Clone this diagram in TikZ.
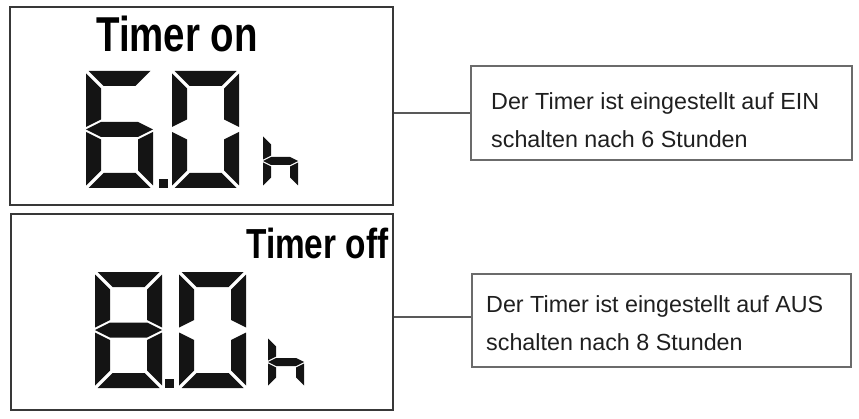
\documentclass[tikz,border=0pt]{standalone}
\usepackage{fontspec}
\setmainfont{Liberation Sans}
\newfontfamily\txtfont{Liberation Sans}
\begin{document}
\begin{tikzpicture}[x=1pt,y=1pt,
  lcdframe/.style={draw=black!78,line width=2pt,minimum width=#1,inner sep=0pt},
  infobox/.style={draw=black!58,line width=1.5pt,inner sep=0pt},
  infotext/.style={inner sep=0pt,align=left,text=black!88,font=\txtfont\fontsize{23.3}{38}\selectfont},
  lcdlabel/.style={inner sep=0pt},
  wire/.style={draw=black!65,line width=1.5pt}]
\useasboundingbox (0,0) rectangle (859,418);
\pgfkeys{
 /seg/a/.code={\fill (\D,\H) -- ({\W-\D},\H) -- ({\W-\T-\D},{\H-\T}) -- ({\T+\D},{\H-\T}) -- cycle;},
 /seg/b/.code={\fill (\W,{\H-\D}) -- ({\W-\T},{\H-\T-\D}) -- ({\W-\T},{\M+\Hh+\D}) -- (\W,{\M+\D}) -- cycle;},
 /seg/c/.code={\fill (\W,\D) -- ({\W-\T},{\T+\D}) -- ({\W-\T},{\M-\Hh-\D}) -- (\W,{\M-\D}) -- cycle;},
 /seg/d/.code={\fill (\D,0) -- ({\W-\D},0) -- ({\W-\T-\D},\T) -- ({\T+\D},\T) -- cycle;},
 /seg/e/.code={\fill (0,\D) -- (\T,{\T+\D}) -- (\T,{\M-\Hh-\D}) -- (0,{\M-\D}) -- cycle;},
 /seg/f/.code={\fill (0,{\H-\D}) -- (\T,{\H-\T-\D}) -- (\T,{\M+\Hh+\D}) -- (0,{\M+\D}) -- cycle;},
 /seg/g/.code={\fill (0,\M) -- (\T,{\M+\Hh}) -- ({\W-\T},{\M+\Hh}) -- (\W,\M) -- ({\W-\T},{\M-\Hh}) -- (\T,{\M-\Hh}) -- cycle;}
}
\newcommand\lcddigit[7]{%
  \begin{scope}[shift={(#1,#2)}]
    \def\W{#3}\def\H{#4}\def\T{#5}\def\D{#6}%
    \pgfmathsetmacro\Hh{#5/2}\pgfmathsetmacro\M{#4/2}%
    \foreach \s in {#7}{\edef\segtmp{\noexpand\pgfkeys{/seg/\s}}\segtmp}
  \end{scope}}

% frames
\node[lcdframe=383pt,minimum height=198pt] (lcdon) at (201.5,312) {};
\node[lcdframe=382pt,minimum height=196pt] (lcdoff) at (202,106) {};
\node[infobox,minimum width=381pt,minimum height=94pt] (txton) at (661.5,305) {};
\node[infobox,minimum width=379pt,minimum height=93pt] (txtoff) at (661.5,97.5) {};

% texts
\node[infotext,anchor=north west] (txtonlabel) at (491,326) {Der Timer ist eingestellt auf EIN\\schalten nach 6 Stunden};
\node[infotext,anchor=north west] (txtofflabel) at (486,123) {Der Timer ist eingestellt auf AUS\\schalten nach 8 Stunden};

\node[lcdlabel,anchor=base west] (timeron) at (96,366) {\scalebox{0.785}[1]{\fontsize{49}{49}\selectfont\bfseries Timer on}};
\node[lcdlabel,anchor=base west] (timeroff) at (246,159) {\scalebox{0.795}[1]{\fontsize{42}{42}\selectfont\bfseries Timer off}};

% connectors
\draw[wire] (txton.west) -- (txton.west -| lcdon.east);
\draw[wire] ([yshift=3.5pt]txtoff.west) -- ([yshift=3.5pt]txtoff.west -| lcdoff.east);

% digits top: 6.0 h
\begin{scope}[fill=black!92]
\lcddigit{86}{230}{67}{117}{15}{2.5}{a,f,g,e,d,c}
\lcddigit{172}{230}{67}{117}{15}{2.5}{a,b,c,d,e,f}
\fill (159,230) rectangle (168,239);
\lcddigit{263}{231}{35}{52}{8}{1.5}{f,e,g,c}
% digits bottom: 8.0 h
\lcddigit{95}{30}{67}{116}{15}{2.5}{a,b,c,d,e,f,g}
\lcddigit{179}{30}{67}{116}{15}{2.5}{a,b,c,d,e,f}
\fill (165,30) rectangle (174,39);
\lcddigit{268}{31}{36}{50}{8}{1.5}{f,e,g,c}
\end{scope}
\end{tikzpicture}
\end{document}
